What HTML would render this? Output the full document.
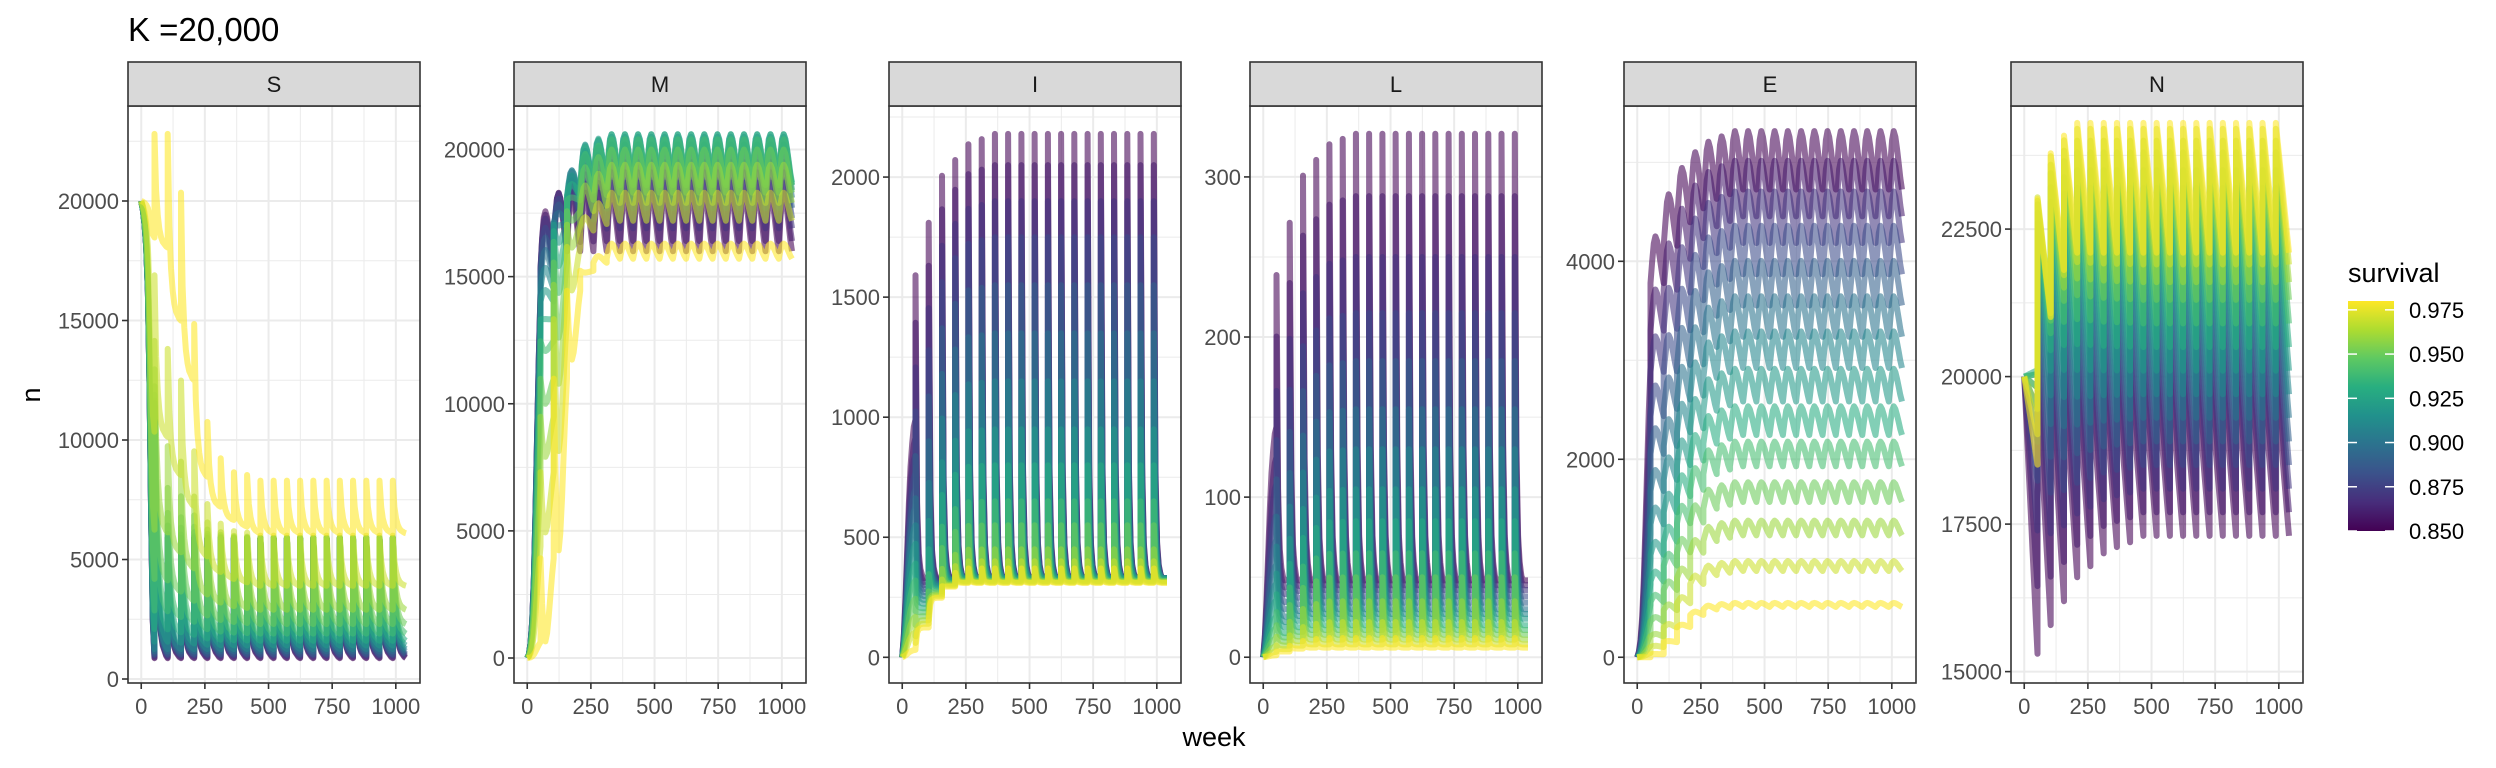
<!DOCTYPE html>
<html><head><meta charset="utf-8"><style>
html,body{margin:0;padding:0;background:#fff}
svg{display:block;font-family:"Liberation Sans",Arial,sans-serif}
</style></head><body>
<svg id="chart" width="2496" height="768" viewBox="0 0 2496 768" xmlns="http://www.w3.org/2000/svg">
<defs>
<linearGradient id="viridis" x1="0" y1="1" x2="0" y2="0">
<stop offset="0" stop-color="#440154"/><stop offset="0.125" stop-color="#472d7b"/><stop offset="0.25" stop-color="#3b528b"/><stop offset="0.375" stop-color="#2c728e"/><stop offset="0.5" stop-color="#21918c"/><stop offset="0.625" stop-color="#28ae80"/><stop offset="0.75" stop-color="#5ec962"/><stop offset="0.875" stop-color="#addc30"/><stop offset="1" stop-color="#fde725"/>
</linearGradient>
</defs>
<text x="128" y="41" font-size="33" fill="#000">K =20,000</text>
<text x="1214" y="746" font-size="27" text-anchor="middle" fill="#000">week</text>
<text transform="translate(40,395) rotate(-90)" font-size="27" text-anchor="middle" fill="#000">n</text>
<g id="panels"></g>
<g id="legend">
<text x="2348" y="282" font-size="27" fill="#000">survival</text>
<rect x="2348" y="301" width="46" height="230" fill="url(#viridis)"/>
</g>
</svg>
<script>
// ---------- shared data ----------
const survival = [0.85,0.86,0.87,0.88,0.89,0.90,0.91,0.92,0.93,0.94,0.95,0.96,0.97,0.98];
const xBreaks = [0,250,500,750,1000];
const xMinor = [125,375,625,875];
const legendBreaks = [0.85,0.875,0.9,0.925,0.95,0.975];
const legendLabels = ["0.850","0.875","0.900","0.925","0.950","0.975"];
const nYears = 20;
const weeksPerYear = 52;

// ---------- S ----------
const sInit = 20000;
const sPeakSS = [5900,5900,5900,5900,5900,5900,5900,5900,5900,5900,5900,5900,6000,8300];
const sTroughSS = [870,900,950,1000,1050,1150,1250,1400,1600,1900,2300,2900,3900,6100];
const sRampPeakLow = [0,0.6,1];
const sRampPeakHigh = [0,-0.24,-0.24,-0.03,0.44,0.79,0.92,0.97,0.98];
const sRampTroughLow = [1];
const sRampTroughHigh = [0.11,0.14,0.36,0.54,0.83,0.92,0.96,0.98];
const sMix = [0,0,0,0,0,0,0,0.01,0.03,0.06,0.12,0.22,0.45,1];
const sYear0 = [0,0.02,0.05,0.1,0.2,0.4,0.7,0.92,1];
const sShape = [1,0.5,0.28,0.16,0.09,0.05,0.03,0.01,0];
const sTicks = [0,5000,10000,15000,20000];
const sMinor = [2500,7500,12500,17500,22500];

// ---------- M ----------
const mInit = 0;
const mPeakSS = [18300,18700,19100,19500,19900,20200,20500,20600,20600,20400,20000,19400,18300,16300];
const mTroughSS = [16000,16400,16900,17300,17700,18100,18400,18600,18700,18600,18300,17900,17200,15700];
const mRampPeakLow = [0,0.96];
const mRampPeakHigh = [0,0.04,0.26,0.72,0.93,0.97];
const mRampTroughLow = [0.9,0.95];
const mRampTroughHigh = [0.04,0.25,0.7,0.92,0.97,0.99];
const mMix = [0,0.03,0.06,0.1,0.14,0.18,0.23,0.28,0.34,0.4,0.5,0.6,0.75,1];
const mYear0 = [0,0.01,0.04,0.1,0.22,0.4,0.62,0.82,1];
const mShape = [0,0.55,0.9,1,0.9,0.7,0.45,0.2,0];
const mTicks = [0,5000,10000,15000,20000];
const mMinor = [2500,7500,12500,17500];

// ---------- I ----------
const iInit = 0;
const iPeakSS = [2180,2050,1900,1750,1550,1350,1150,950,800,650,550,450,400,370];
const iTroughSS = [330,330,330,330,330,330,330,330,325,320,318,315,312,310];
const iRampPeakLow = [0,0.73,0.83,0.92,0.95,0.98,0.99];
const iRampPeakHigh = [0,0.1,0.4,0.8,0.95];
const iRampTroughLow = [3,1];
const iRampTroughHigh = [0.1,0.4,0.8,0.95];
const iMix = [0,0.08,0.15,0.23,0.3,0.38,0.46,0.54,0.62,0.69,0.77,0.85,0.92,1];
const iYear0 = [0,0.1,0.25,0.45,0.65,0.8,0.9,0.97,1];
const iShape = [1,0.25,0.08,0.03,0.01,0,0,0,0];
const iTicks = [0,500,1000,1500,2000];
const iMinor = [250,750,1250,1750,2250];

// ---------- L ----------
const lInit = 0;
const lPeakSS = [327,288,250,215,185,155,130,105,85,65,50,35,22,12];
const lTroughSS = [48,45,42,38,34,30,27,24,20,17,14,11,8,6];
const lRampPeakLow = [0,0.73,0.83,0.92,0.95,0.98,0.99];
const lRampPeakHigh = [0,0.3,0.6,0.85,0.95];
const lRampTroughLow = [3,1];
const lRampTroughHigh = [0.2,0.6,0.9];
const lMix = [0,0.08,0.15,0.23,0.3,0.38,0.46,0.54,0.62,0.69,0.77,0.85,0.92,1];
const lYear0 = [0,0.1,0.25,0.45,0.65,0.8,0.9,0.97,1];
const lShape = [1,0.3,0.1,0.04,0.01,0,0,0,0];
const lTicks = [0,100,200,300];
const lMinor = [50,150,250];

// ---------- E ----------
const eInit = 0;
const ePeakSS = [5315,5015,4705,4359,4004,3647,3292,2914,2535,2179,1769,1381,971,549];
const eTroughSS = [4725,4455,4185,3869,3554,3237,2922,2584,2245,1929,1569,1231,871,509];
const eRampPeakLow = [0.62,0.8,0.88,0.93,0.96,0.98,0.99];
const eRampPeakHigh = [0,0.06,0.3,0.6,0.84,0.95,0.98];
const eRampTroughLow = [0.62,0.8,0.88,0.93,0.96,0.98,0.99];
const eRampTroughHigh = [0,0.06,0.3,0.6,0.84,0.95,0.98];
const eMix = [0,0.08,0.15,0.23,0.3,0.38,0.46,0.54,0.62,0.69,0.77,0.85,0.92,1];
const eYear0 = [0,0.02,0.06,0.14,0.28,0.46,0.66,0.85,1];
const eShape = [0,0.45,0.85,1,0.9,0.7,0.45,0.2,0];
const eTicks = [0,2000,4000];
const eMinor = [1000,3000,5000];

// ---------- N ----------
const nInit = 20000;
const nPeakSS = [20000,20400,20800,21200,21600,22000,22400,22800,23200,23500,23800,24000,24200,24300];
const nTroughSS = [17300,17700,18100,18500,18900,19300,19700,20100,20500,20900,21300,21600,21900,22100];
const nRampPeakLow = [0,1];
const nRampPeakHigh = [0,0.7,0.88,0.95];
const nRampTroughLow = [1.74,1.56,1.41,1.26,1.19,1.11,1.07,1.04];
const nRampTroughHigh = [-0.71,0.48,0.86];
const nMix = [0,0.08,0.15,0.23,0.3,0.38,0.46,0.54,0.62,0.69,0.77,0.85,0.92,1];
const nYear0 = [0,0.125,0.25,0.375,0.5,0.625,0.75,0.875,1];
const nShape = [1,0.875,0.75,0.625,0.5,0.375,0.25,0.125,0];
const nTicks = [15000,17500,20000,22500];
const nMinor = [16250,18750,21250,23750];

// ---------- layout ----------
const panels = [
  {key:'s',label:'S',left:128,ymin:-167,ymax:23975,init:sInit,peak:sPeakSS,trough:sTroughSS,rpl:sRampPeakLow,rph:sRampPeakHigh,rtl:sRampTroughLow,rth:sRampTroughHigh,mix:sMix,y0:sYear0,shape:sShape,ticks:sTicks,minor:sMinor},
  {key:'m',label:'M',left:514,ymin:-983,ymax:21711,init:mInit,peak:mPeakSS,trough:mTroughSS,rpl:mRampPeakLow,rph:mRampPeakHigh,rtl:mRampTroughLow,rth:mRampTroughHigh,mix:mMix,y0:mYear0,shape:mShape,ticks:mTicks,minor:mMinor},
  {key:'i',label:'I',left:889,ymin:-107,ymax:2296,init:iInit,peak:iPeakSS,trough:iTroughSS,rpl:iRampPeakLow,rph:iRampPeakHigh,rtl:iRampTroughLow,rth:iRampTroughHigh,mix:iMix,y0:iYear0,shape:iShape,ticks:iTicks,minor:iMinor},
  {key:'l',label:'L',left:1250,ymin:-16.1,ymax:344.3,init:lInit,peak:lPeakSS,trough:lTroughSS,rpl:lRampPeakLow,rph:lRampPeakHigh,rtl:lRampTroughLow,rth:lRampTroughHigh,mix:lMix,y0:lYear0,shape:lShape,ticks:lTicks,minor:lMinor},
  {key:'e',label:'E',left:1624,ymin:-260,ymax:5569,init:eInit,peak:ePeakSS,trough:eTroughSS,rpl:eRampPeakLow,rph:eRampPeakHigh,rtl:eRampTroughLow,rth:eRampTroughHigh,mix:eMix,y0:eYear0,shape:eShape,ticks:eTicks,minor:eMinor},
  {key:'n',label:'N',left:2011,ymin:14807,ymax:24586,init:nInit,peak:nPeakSS,trough:nTroughSS,rpl:nRampPeakLow,rph:nRampPeakHigh,rtl:nRampTroughLow,rth:nRampTroughHigh,mix:nMix,y0:nYear0,shape:nShape,ticks:nTicks,minor:nMinor}
];
const PW = 292, PTOP = 106, PBOT = 683, STRIPTOP = 62;
const XMIN = -52, XMAX = 1095;
const NS = 'http://www.w3.org/2000/svg';

const vstops = [[68,1,84],[71,45,123],[59,82,139],[44,114,142],[33,145,140],[40,174,128],[94,201,98],[173,220,48],[253,231,37]];
function viridis(t){
  t = Math.max(0, Math.min(1, t));
  const p = t*(vstops.length-1), i = Math.min(Math.floor(p), vstops.length-2), f = p-i;
  const c = vstops[i].map((v,j)=>Math.round(v+(vstops[i+1][j]-v)*f));
  return 'rgb('+c.join(',')+')';
}
function el(tag, attrs, parent){
  const e = document.createElementNS(NS, tag);
  for (const k in attrs) e.setAttribute(k, attrs[k]);
  parent.appendChild(e);
  return e;
}
function rampAt(arr, j){ return j < arr.length ? arr[j] : 1; }

const root = document.getElementById('panels');
const sMin = survival[0], sMax = survival[survival.length-1];

panels.forEach(p => {
  const g = el('g', {}, root);
  
  
  const xs = v => p.left + (v - XMIN) / (XMAX - XMIN) * PW;
  const ys = v => PBOT - (v - p.ymin) / (p.ymax - p.ymin) * (PBOT - PTOP);

  const bg = el('rect', {x:p.left, y:PTOP, width:PW, height:PBOT-PTOP, fill:'#fff'}, g);
  
  
  p.minor.forEach(v => { const y = ys(v); if (y>PTOP && y<PBOT) { const l = el('line', {x1:p.left, x2:p.left+PW, y1:y, y2:y, stroke:'#ebebeb', 'stroke-width':1}, g);   }});
  xMinor.forEach(v => { const x = xs(v); const l = el('line', {x1:x, x2:x, y1:PTOP, y2:PBOT, stroke:'#ebebeb', 'stroke-width':1}, g);   });
  p.ticks.forEach(v => { const y = ys(v); const l = el('line', {x1:p.left, x2:p.left+PW, y1:y, y2:y, stroke:'#ebebeb', 'stroke-width':2}, g);   });
  xBreaks.forEach(v => { const x = xs(v); const l = el('line', {x1:x, x2:x, y1:PTOP, y2:PBOT, stroke:'#ebebeb', 'stroke-width':2}, g);   });

  const cp = el('clipPath', {id:'clip-'+p.key}, g);
  el('rect', {x:p.left, y:PTOP, width:PW, height:PBOT-PTOP}, cp);
  const lg = el('g', {'clip-path':'url(#clip-'+p.key+')'}, g);
  
  

  const nSteps = p.shape.length - 1;
  survival.forEach((s, k) => {
    const w = (s - sMin) / (sMax - sMin);
    const m = p.mix[k];
    const pts = [];
    for (let j = 0; j < nYears; j++) {
      const fp = rampAt(p.rpl, j) + (rampAt(p.rph, j) - rampAt(p.rpl, j)) * m;
      const ft = rampAt(p.rtl, j) + (rampAt(p.rth, j) - rampAt(p.rtl, j)) * m;
      const pk = p.init + (p.peak[k] - p.init) * fp;
      const tr = p.init + (p.trough[k] - p.init) * ft;
      for (let q = 0; q <= nSteps; q++) {
        const t = j * weeksPerYear + q / nSteps * weeksPerYear;
        let v;
        if (j === 0) v = p.init + (tr - p.init) * p.y0[q];
        else v = tr + (pk - tr) * p.shape[q];
        pts.push(xs(t).toFixed(1) + ',' + ys(v).toFixed(1));
      }
    }
    const line = el('polyline', {points:pts.join(' '), fill:'none', stroke:viridis(w), 'stroke-opacity':0.58, 'stroke-width':6, 'stroke-linejoin':'round'}, lg);
    
    
  });

  el('rect', {x:p.left, y:PTOP, width:PW, height:PBOT-PTOP, fill:'none', stroke:'#333', 'stroke-width':1.6}, g);
  const st = el('rect', {x:p.left, y:STRIPTOP, width:PW, height:PTOP-STRIPTOP, fill:'#d9d9d9', stroke:'#333', 'stroke-width':1.6}, g);
  
  
  const stt = el('text', {x:p.left+PW/2, y:92, 'font-size':22, 'text-anchor':'middle', fill:'#1a1a1a'}, g);
  stt.textContent = p.label;
  
  

  p.ticks.forEach(v => {
    const y = ys(v);
    el('line', {x1:p.left-6, x2:p.left, y1:y, y2:y, stroke:'#333', 'stroke-width':1.6}, g);
    const t = el('text', {x:p.left-9, y:y+8, 'font-size':22, 'text-anchor':'end', fill:'#4d4d4d'}, g);
    t.textContent = String(v);
    
    
  });
  xBreaks.forEach(v => {
    const x = xs(v);
    el('line', {x1:x, x2:x, y1:PBOT, y2:PBOT+6, stroke:'#333', 'stroke-width':1.6}, g);
    const t = el('text', {x:x, y:714, 'font-size':22, 'text-anchor':'middle', fill:'#4d4d4d'}, g);
    t.textContent = String(v);
    
    
  });
});

const leg = document.getElementById('legend');
const LB_TOP = 301, LB_BOT = 531;
legendBreaks.forEach((v, i) => {
  const y = LB_BOT - (v - sMin) / (sMax - sMin) * (LB_BOT - LB_TOP);
  el('line', {x1:2348, x2:2357, y1:y, y2:y, stroke:'#fff', 'stroke-width':1.5}, leg);
  el('line', {x1:2385, x2:2394, y1:y, y2:y, stroke:'#fff', 'stroke-width':1.5}, leg);
  const t = el('text', {x:2409, y:y+8, 'font-size':22, fill:'#000'}, leg);
  t.textContent = legendLabels[i];
  
  
});
</script>
</body></html>
